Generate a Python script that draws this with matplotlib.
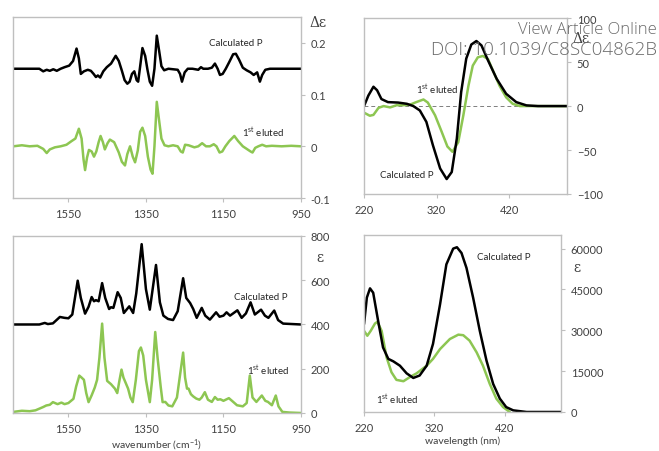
import matplotlib
matplotlib.use("Agg")
import matplotlib.pyplot as plt
import numpy as np

plt.rcParams["font.family"] = ["Lato", "DejaVu Sans"]
plt.rcParams["mathtext.default"] = "regular"
plt.rcParams["lines.solid_joinstyle"] = "round"
plt.rcParams["lines.solid_capstyle"] = "round"

BLACK = "#000000"
GREEN = "#8dc652"
SPINE = "#bfbfbf"
TXT = "#404040"

# ---- VCD (top left) ----
vcd_calc_wn = [1692, 1625, 1615, 1606, 1598, 1589, 1580, 1570, 1560, 1548, 1538, 1529, 1523,
               1518, 1510, 1500, 1492, 1485, 1479, 1474, 1468, 1460, 1451, 1440, 1428, 1420,
               1412, 1405, 1398, 1392, 1386, 1380, 1374, 1370, 1364, 1359, 1352, 1346, 1340,
               1334, 1328, 1322, 1316, 1310, 1303, 1292, 1280, 1268, 1262, 1257, 1250, 1242,
               1230, 1215, 1208, 1202, 1190, 1180, 1172, 1165, 1159, 1152, 1144, 1135, 1125,
               1118, 1110, 1100, 1090, 1080, 1072, 1063, 1056, 1050, 1042, 1030, 950]
vcd_calc = [0.150, 0.150, 0.145, 0.148, 0.146, 0.149, 0.146, 0.150, 0.153, 0.156, 0.165, 0.189, 0.170,
            0.140, 0.145, 0.148, 0.146, 0.140, 0.134, 0.137, 0.133, 0.145, 0.153, 0.160, 0.175, 0.165,
            0.146, 0.128, 0.121, 0.125, 0.140, 0.145, 0.128, 0.125, 0.160, 0.190, 0.175, 0.148, 0.125,
            0.117, 0.150, 0.214, 0.185, 0.155, 0.147, 0.150, 0.149, 0.148, 0.140, 0.125, 0.143, 0.150,
            0.150, 0.148, 0.153, 0.150, 0.150, 0.152, 0.160, 0.150, 0.138, 0.140, 0.150, 0.163, 0.178,
            0.179, 0.168, 0.152, 0.147, 0.143, 0.138, 0.143, 0.125, 0.138, 0.148, 0.150, 0.150]

vcd_exp_wn = [1692, 1670, 1650, 1630, 1615, 1606, 1598, 1585, 1570, 1555, 1542, 1532, 1523,
              1516, 1511, 1507, 1502, 1497, 1490, 1484, 1478, 1472, 1467, 1461, 1456, 1449,
              1443, 1432, 1420, 1412, 1404, 1398, 1391, 1384, 1378, 1371, 1365, 1359, 1352,
              1345, 1338, 1333, 1328, 1322, 1316, 1310, 1302, 1292, 1280, 1268, 1260, 1255,
              1249, 1240, 1225, 1215, 1205, 1195, 1185, 1175, 1168, 1160, 1153, 1145, 1135,
              1122, 1112, 1100, 1090, 1080, 1075, 1068, 1060, 1050, 1040, 1025, 1000, 975, 950]
vcd_exp = [0.000, 0.002, 0.000, 0.001, -0.005, -0.013, -0.006, -0.002, 0.000, 0.003, 0.010, 0.015, 0.034,
           0.015, -0.025, -0.046, -0.022, -0.007, -0.010, -0.020, -0.010, 0.008, 0.020, 0.008, -0.006, 0.006,
           0.013, 0.008, -0.012, -0.030, -0.037, -0.015, 0.000, -0.020, -0.031, -0.008, 0.028, 0.036, 0.020,
           -0.020, -0.045, -0.053, 0.000, 0.086, 0.050, 0.015, 0.002, 0.000, 0.002, 0.000, -0.010, -0.012,
           0.003, 0.002, -0.002, 0.000, 0.006, 0.000, 0.000, 0.004, 0.000, -0.012, -0.010, 0.000, 0.010,
           0.020, 0.010, 0.000, -0.005, -0.010, -0.012, -0.003, 0.000, 0.003, 0.000, 0.001, 0.000, 0.001, 0.000]

# ---- ECD (top right) ----
ecd_calc_nm = [220, 226, 233, 238, 244, 253, 267, 279, 288, 297, 306, 315, 325, 334, 341, 348,
               354, 361, 368, 375, 382, 391, 403, 416, 430, 444, 460, 500]
ecd_calc = [0, 12, 22, 18, 8, 4.5, 4, 2.6, 0, -5, -18, -44.5, -71, -83, -75, -37,
            16, 54, 70, 74, 69, 52, 31, 14, 4.5, 0.8, 0, 0]
ecd_exp_nm = [220, 228, 233, 240, 247, 256, 265, 274, 283, 292, 302, 308, 318, 327, 335, 342,
              350, 357, 364, 370, 377, 384, 391, 398, 407, 416, 425, 435, 460, 500]
ecd_exp = [-7.5, -11, -10, -2, 0, -1.5, 1, 1, 1.5, 4.5, 7.5, 4, -10.5, -29, -46, -52,
           -41, -10.5, 23, 46, 55.5, 57, 53.5, 40, 23, 10, 2.6, 0, 0, 0]

# ---- IR (bottom left) ----
ir_calc_wn = [1692, 1625, 1611, 1603, 1590, 1572, 1560, 1550, 1540, 1526, 1518, 1507, 1498, 1490,
              1484, 1479, 1472, 1463, 1455, 1445, 1440, 1434, 1423, 1415, 1407, 1393, 1383, 1375,
              1361, 1350, 1340, 1324, 1314, 1305, 1293, 1280, 1268, 1254, 1246, 1236, 1228, 1219,
              1206, 1197, 1185, 1169, 1160, 1150, 1142, 1133, 1114, 1103, 1092, 1080, 1069, 1053,
              1043, 1034, 1019, 1009, 996, 950]
ir_calc = [400, 400, 407, 402, 405, 434, 430, 428, 445, 598, 520, 449, 480, 524,
           505, 510, 505, 587, 520, 470, 478, 475, 546, 520, 452, 482, 452, 540,
           763, 560, 467, 669, 500, 440, 425, 420, 460, 609, 520, 497, 470, 430,
           475, 440, 422, 455, 435, 440, 455, 440, 464, 430, 450, 500, 445, 467,
           440, 430, 463, 420, 404, 400]

ir_exp_wn = [1692, 1670, 1650, 1635, 1615, 1607, 1598, 1590, 1578, 1568, 1560, 1550, 1537, 1530,
             1522, 1516, 1510, 1504, 1498, 1490, 1482, 1476, 1470, 1463, 1457, 1450, 1440, 1430,
             1424, 1418, 1413, 1408, 1402, 1396, 1390, 1384, 1376, 1368, 1363, 1357, 1350, 1340,
             1334, 1326, 1320, 1312, 1307, 1300, 1292, 1282, 1270, 1254, 1249, 1244, 1240, 1234,
             1228, 1220, 1212, 1206, 1198, 1190, 1180, 1172, 1165, 1158, 1150, 1136, 1128, 1115,
             1100, 1090, 1082, 1075, 1065, 1051, 1042, 1035, 1025, 1015, 1008, 998, 980, 950]
ir_exp = [5, 10, 8, 12, 27, 34, 37, 49, 40, 47, 40, 45, 64, 120,
          169, 160, 150, 90, 49, 80, 115, 150, 250, 404, 250, 145, 130, 110,
          90, 150, 196, 160, 135, 110, 70, 49, 150, 280, 296, 260, 150, 49,
          150, 366, 250, 120, 49, 50, 34, 30, 70, 273, 160, 110, 110, 85,
          75, 65, 60, 70, 94, 60, 50, 72, 60, 62, 55, 67, 55, 35,
          30, 45, 169, 70, 50, 79, 55, 50, 35, 79, 30, 5, 2, 0]

# ---- UV (bottom right) ----
uv_calc_nm = [220, 224, 228.5, 233, 240, 247, 254.5, 261.6, 271, 280.5, 290, 299, 309, 318, 328,
              337, 346.7, 352, 358.5, 365.6, 375, 384.5, 394, 403.5, 413, 422, 432, 451, 500]
uv_calc = [32250, 42000, 45400, 43800, 33500, 23700, 19500, 18600, 17000, 14200, 12500, 13400,
           17000, 25000, 39500, 54200, 60000, 60500, 58400, 52900, 42000, 29800, 18900, 10300,
           4900, 1800, 600, 0, 0]
uv_exp_nm = [220, 224.7, 229.5, 235.6, 239, 245, 252, 259, 266, 276, 285, 294.7, 309, 318, 328,
             342, 354, 361, 370, 380, 389, 398.7, 408, 417.6, 427]
uv_exp = [29800, 28000, 29800, 32500, 33100, 29800, 20100, 14600, 11800, 11300, 12800, 14200,
          17000, 19500, 23100, 26800, 28400, 28200, 26200, 21900, 17000, 10300, 4900, 1800, 0]

wn_ticks = [1550, 1350, 1150, 950]
nm_ticks = [220, 320, 420]
vcd_ticks = [-0.1, 0, 0.1, 0.2]
vcd_ticklabels = ["-0.1", "0", "0.1", "0.2"]
ecd_ticks = [-100, -50, 0, 50, 100]
ir_ticks = [0, 200, 400, 600, 800]
uv_ticks = [0, 15000, 30000, 45000, 60000]

FIRST = "1$^{st}$ eluted"

fig = plt.figure(figsize=(6.59, 4.52), dpi=100)


def style(ax):
    for s in ax.spines.values():
        s.set_color(SPINE)
        s.set_linewidth(1.0)
    ax.yaxis.tick_right()
    ax.tick_params(axis="both", colors=SPINE, labelcolor=TXT, labelsize=8,
                   length=3, width=0.8)
    ax.tick_params(axis="x", pad=4)
    ax.tick_params(axis="y", pad=4)


def note(ax, x, y, s):
    ax.text(x, y, s, transform=ax.transAxes, fontsize=7, color="#262626",
            ha="center", va="center")


ax1 = fig.add_axes([0.0197, 0.5597, 0.437, 0.4004])
ax1.plot(vcd_calc_wn, vcd_calc, color=BLACK, lw=1.8)
ax1.plot(vcd_exp_wn, vcd_exp, color=GREEN, lw=1.8)
ax1.set_xlim(1693, 950)
ax1.set_ylim(-0.1, 0.25)
ax1.set_xticks(wn_ticks)
ax1.set_yticks(vcd_ticks)
ax1.set_yticklabels(vcd_ticklabels)
style(ax1)
note(ax1, 0.775, 0.86, "Calculated P")
note(ax1, 0.87, 0.37, FIRST)
ax1.text(1.06, 0.97, "Δε", transform=ax1.transAxes, fontsize=10, family="DejaVu Serif",
         color=TXT, ha="center", va="center")

ax2 = fig.add_axes([0.5524, 0.5686, 0.308, 0.389])
ax2.axhline(0, color="#7f7f7f", lw=0.7, ls=(0, (4, 3)))
ax2.plot(ecd_exp_nm, ecd_exp, color=GREEN, lw=1.8)
ax2.plot(ecd_calc_nm, ecd_calc, color=BLACK, lw=1.8)
ax2.set_xlim(220, 500)
ax2.set_ylim(-100, 100)
ax2.set_xticks(nm_ticks)
ax2.set_yticks(ecd_ticks)
style(ax2)
note(ax2, 0.36, 0.60, FIRST)
note(ax2, 0.21, 0.11, "Calculated P")
ax2.text(1.07, 0.89, "Δε", transform=ax2.transAxes, fontsize=10, family="DejaVu Serif",
         color=TXT, ha="center", va="center")

ax3 = fig.add_axes([0.0197, 0.0841, 0.437, 0.3916])
ax3.plot(ir_calc_wn, ir_calc, color=BLACK, lw=1.8)
ax3.plot(ir_exp_wn, ir_exp, color=GREEN, lw=1.8)
ax3.set_xlim(1693, 950)
ax3.set_ylim(0, 800)
ax3.set_xticks(wn_ticks)
ax3.set_yticks(ir_ticks)
style(ax3)
ax3.set_xlabel("wavenumber (cm$^{-1}$)", fontsize=7.5, color=TXT, labelpad=2)
note(ax3, 0.86, 0.66, "Calculated P")
note(ax3, 0.885, 0.25, FIRST)
ax3.text(1.065, 0.88, "ε", transform=ax3.transAxes, fontsize=10, family="DejaVu Serif",
         color=TXT, ha="center", va="center")

ax4 = fig.add_axes([0.5524, 0.0863, 0.299, 0.3916])
ax4.plot(uv_exp_nm, uv_exp, color=GREEN, lw=1.8)
ax4.plot(uv_calc_nm, uv_calc, color=BLACK, lw=1.8)
ax4.set_xlim(220, 500)
ax4.set_ylim(0, 65000)
ax4.set_xticks(nm_ticks)
ax4.set_yticks(uv_ticks)
style(ax4)
ax4.set_xlabel("wavelength (nm)", fontsize=7.5, color=TXT, labelpad=2)
note(ax4, 0.71, 0.88, "Calculated P")
note(ax4, 0.17, 0.08, FIRST)
ax4.text(1.08, 0.82, "ε", transform=ax4.transAxes, fontsize=10, family="DejaVu Serif",
         color=TXT, ha="center", va="center")

# watermark
fig.text(0.997, 1 - 30 / 452, "View Article Online", fontsize=12, color="#6a6a6a",
         ha="right", va="center", family=["Open Sans", "DejaVu Sans"], fontweight="light")
fig.text(0.997, 1 - 50 / 452, "DOI: 10.1039/C8SC04862B", fontsize=13.5, color="#6a6a6a",
         ha="right", va="center", family=["Open Sans", "DejaVu Sans"], fontweight="light")

fig.savefig("out.png", dpi=100)
